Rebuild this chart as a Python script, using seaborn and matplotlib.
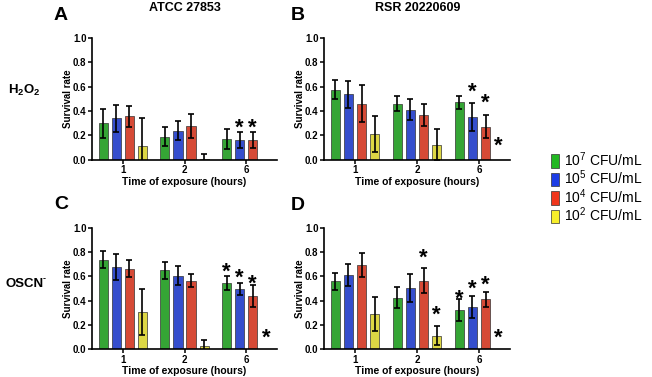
import numpy as np
import pandas as pd
import matplotlib
matplotlib.use('Agg')
import matplotlib.pyplot as plt
from matplotlib.patches import Patch
import seaborn as sns

sns.set_style('ticks')
plt.rcParams['font.family'] = ['Liberation Sans', 'DejaVu Sans']
plt.rcParams['mathtext.fontset'] = 'custom'
plt.rcParams['mathtext.rm'] = 'Liberation Sans'
plt.rcParams['mathtext.bf'] = 'Liberation Sans:bold'
plt.rcParams['mathtext.it'] = 'Liberation Sans:italic'
for k in ['text.color', 'axes.labelcolor', 'xtick.color', 'ytick.color', 'axes.edgecolor']:
    plt.rcParams[k] = 'black'

# ---------------------------------------------------------------
# data (rows = 1 h, 2 h, 6 h; cols = 10^7, 10^5, 10^4, 10^2)
# ---------------------------------------------------------------
times = ['1', '2', '6']
cfu_labels = ['10$^7$ CFU/mL', '10$^5$ CFU/mL', '10$^4$ CFU/mL', '10$^2$ CFU/mL']
cfu_colors = ['#22B822', '#1C3DE6', '#F0361C', '#F7EE2A']

atcc_h2o2_mean = [[0.30, 0.34, 0.355, 0.115], [0.19, 0.24, 0.275, 0.01], [0.17, 0.16, 0.16, 0.0]]
atcc_h2o2_err = [[0.12, 0.11, 0.085, 0.225], [0.08, 0.075, 0.10, 0.04], [0.08, 0.065, 0.065, 0.0]]
atcc_h2o2_stars = [('6', 1, 0.32), ('6', 2, 0.32)]

rsr_h2o2_mean = [[0.575, 0.535, 0.46, 0.21], [0.46, 0.41, 0.365, 0.125], [0.47, 0.35, 0.27, 0.0]]
rsr_h2o2_err = [[0.08, 0.11, 0.15, 0.145], [0.06, 0.085, 0.09, 0.13], [0.055, 0.115, 0.095, 0.0]]
rsr_h2o2_stars = [('6', 1, 0.61), ('6', 2, 0.52), ('6', 3, 0.17)]

atcc_oscn_mean = [[0.735, 0.675, 0.66, 0.305], [0.65, 0.605, 0.565, 0.027], [0.545, 0.495, 0.44, 0.0]]
atcc_oscn_err = [[0.07, 0.105, 0.07, 0.19], [0.07, 0.08, 0.055, 0.05], [0.055, 0.05, 0.09, 0.0]]
atcc_oscn_stars = [('6', 0, 0.695), ('6', 1, 0.64), ('6', 2, 0.59), ('6', 3, 0.15)]

rsr_oscn_mean = [[0.56, 0.61, 0.695, 0.29], [0.425, 0.50, 0.565, 0.11], [0.32, 0.35, 0.41, 0.0]]
rsr_oscn_err = [[0.07, 0.09, 0.10, 0.14], [0.09, 0.115, 0.105, 0.08], [0.09, 0.09, 0.06, 0.0]]
rsr_oscn_stars = [('2', 2, 0.805), ('2', 3, 0.34), ('6', 0, 0.47), ('6', 1, 0.55),
                  ('6', 2, 0.585), ('6', 3, 0.15)]


def to_frame(means, errs):
    rows = []
    for ti, t in enumerate(times):
        for ci, c in enumerate(cfu_labels):
            rows.append({'time': t, 'cfu': c, 'rate': means[ti][ci], 'err': errs[ti][ci]})
    return pd.DataFrame(rows)


def draw_panel(ax, means, errs, stars):
    df = to_frame(means, errs)
    sns.barplot(data=df, x='time', y='rate', hue='cfu', order=times, hue_order=cfu_labels,
                palette=cfu_colors, errorbar=None, width=0.85, gap=0.3,
                edgecolor='#333333', linewidth=0.5, legend=False, ax=ax)

    # bar centres, sorted left to right -> same order as df (time, then cfu)
    centres = sorted(p.get_x() + p.get_width() / 2 for p in ax.patches)
    df['x'] = centres
    has_err = df['err'] > 0
    ax.errorbar(df.loc[has_err, 'x'], df.loc[has_err, 'rate'], yerr=df.loc[has_err, 'err'],
                fmt='none', ecolor='black', elinewidth=1.2, capsize=2.3, capthick=1.2, zorder=5)

    for t, ci, y in stars:
        x = df.loc[(df['time'] == t) & (df['cfu'] == cfu_labels[ci]), 'x'].iloc[0]
        ax.annotate('*', (x, y), xytext=(0, -9), textcoords='offset points',
                    ha='center', va='baseline', fontsize=16, fontweight='bold',
                    annotation_clip=False)

    ax.set_ylim(0, 1.0)
    ax.set_xlim(-0.5, 2.5)
    ax.set_yticks(np.arange(0, 1.01, 0.2))
    ax.set_yticklabels([f'{v:.1f}' for v in np.arange(0, 1.01, 0.2)])
    ax.set_ylabel('Survival rate', fontsize=7, fontweight='bold', labelpad=0)
    ax.set_xlabel('Time of exposure (hours)', fontsize=7.5, fontweight='bold', labelpad=1)
    ax.tick_params(axis='both', labelsize=7, width=1.1, length=3, pad=1)
    for lab in ax.get_xticklabels() + ax.get_yticklabels():
        lab.set_fontweight('bold')
    for s in ['left', 'bottom']:
        ax.spines[s].set_linewidth(1.2)
    sns.despine(ax=ax)


fig = plt.figure(figsize=(6.52, 3.77), dpi=100)
ax_a = fig.add_axes([92 / 652, 0.576, 185 / 652, 0.324])
ax_b = fig.add_axes([324 / 652, 0.576, 186 / 652, 0.324])
ax_c = fig.add_axes([92 / 652, 0.074, 185 / 652, 0.322])
ax_d = fig.add_axes([324 / 652, 0.074, 186 / 652, 0.322])

draw_panel(ax_a, atcc_h2o2_mean, atcc_h2o2_err, atcc_h2o2_stars)
draw_panel(ax_b, rsr_h2o2_mean, rsr_h2o2_err, rsr_h2o2_stars)
draw_panel(ax_c, atcc_oscn_mean, atcc_oscn_err, atcc_oscn_stars)
draw_panel(ax_d, rsr_oscn_mean, rsr_oscn_err, rsr_oscn_stars)

# panel letters, column titles, row labels
fig.text(61 / 652, 1 - 15 / 377, 'A', fontsize=14, fontweight='bold', ha='center', va='center')
fig.text(298 / 652, 1 - 15 / 377, 'B', fontsize=14, fontweight='bold', ha='center', va='center')
fig.text(61 / 652, 1 - 205 / 377, 'C', fontsize=14, fontweight='bold', ha='center', va='center')
fig.text(298 / 652, 1 - 206 / 377, 'D', fontsize=14, fontweight='bold', ha='center', va='center')
fig.text(185 / 652, 1 - 8 / 377, 'ATCC 27853', fontsize=9, fontweight='bold', ha='center', va='center')
fig.text(418 / 652, 1 - 8 / 377, 'RSR 20220609', fontsize=9, fontweight='bold', ha='center', va='center')
fig.text(8 / 652, 1 - 90 / 377, r'$\mathbf{H_2O_2}$', fontsize=9.5, ha='left', va='center')
fig.text(5 / 652, 1 - 284 / 377, 'OSCN', fontsize=9.5, fontweight='bold', ha='left', va='center')
fig.text(42.5 / 652, 1 - 279 / 377, '-', fontsize=6.5, fontweight='bold', ha='left', va='center')

handles = [Patch(facecolor=c, edgecolor='#333333', linewidth=0.5) for c in cfu_colors]
fig.legend(handles, cfu_labels, loc='upper left', bbox_to_anchor=(551 / 652, 1 - 150 / 377),
           frameon=False, fontsize=10, handlelength=0.6, handleheight=1.1,
           handletextpad=0.35, labelspacing=0.0, borderpad=0, borderaxespad=0)

fig.savefig('out.png', dpi=100)
